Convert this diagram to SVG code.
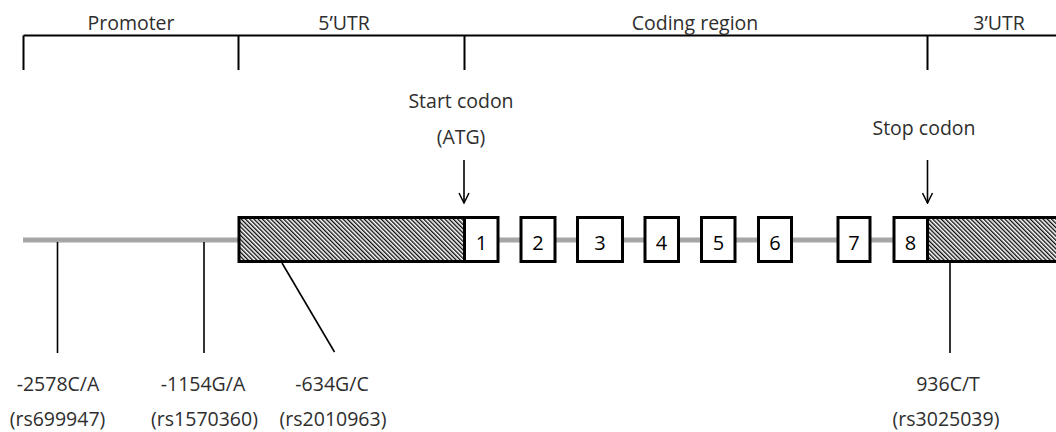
<svg xmlns="http://www.w3.org/2000/svg" width="1056" height="432" viewBox="0 0 1056 432">
  <defs>
    <pattern id="hatch" width="3" height="3" patternUnits="userSpaceOnUse" patternTransform="rotate(-45)">
      <rect width="3" height="3" fill="#ffffff"/>
      <line x1="0.7" y1="0" x2="0.7" y2="3" stroke="#000000" stroke-width="1.3"/>
    </pattern>
    <marker id="open-arrow" viewBox="0 0 12 12" refX="11" refY="6" markerWidth="12" markerHeight="12" markerUnits="userSpaceOnUse" orient="auto">
      <path d="M1,1 L11,6 L1,11" fill="none" stroke="#000000" stroke-width="1.5"/>
    </marker>
    <style>
      .lbl { font-family: "Open Sans", "Liberation Sans", sans-serif; font-size: 19.5px; fill: #2e2e2e; text-anchor: middle; }
      .num { font-family: "Open Sans", "Liberation Sans", sans-serif; font-size: 20px; fill: #000000; text-anchor: middle; }
      .exon { fill: #ffffff; stroke: #000000; stroke-width: 3; }
      .utr { fill: url(#hatch); stroke: #000000; stroke-width: 3; }
      .thin { stroke: #000000; stroke-width: 1.6; fill: none; }
      .bracket { stroke: #000000; stroke-width: 2; fill: none; }
      .backbone { stroke: #a6a6a6; stroke-width: 5; fill: none; }
    </style>
  </defs>

  <rect width="1056" height="432" fill="#ffffff"/>

  <!-- region bracket along the top -->
  <g id="regions">
    <path class="bracket" d="M23.5,35.5 H1056 M23.5,35.5 V70 M238.5,35.5 V70 M464.5,35.5 V70 M927.5,35.5 V70"/>
    <text class="lbl" x="131" y="29.5">Promoter</text>
    <text class="lbl" x="344" y="29.5">5’UTR</text>
    <text class="lbl" x="695" y="29.5">Coding region</text>
    <text class="lbl" x="999" y="29.5">3’UTR</text>
  </g>

  <!-- gene backbone -->
  <g id="backbone">
    <line class="backbone" x1="23" y1="240" x2="927" y2="240"/>
  </g>

  <!-- connectors: codon arrows and SNP pointers -->
  <g id="connectors">
    <line class="thin" x1="464" y1="160" x2="464" y2="203" marker-end="url(#open-arrow)"/>
    <line class="thin" x1="927.5" y1="160" x2="927.5" y2="203" marker-end="url(#open-arrow)"/>
    <line class="thin" x1="57.5" y1="242" x2="57.5" y2="353"/>
    <line class="thin" x1="204" y1="242" x2="204" y2="353"/>
    <line class="thin" x1="282" y1="263" x2="334.5" y2="352"/>
    <line class="thin" x1="950" y1="263" x2="950" y2="353"/>
  </g>

  <g id="utr5">
    <rect class="utr" x="239" y="217.5" width="225.5" height="44"/>
  </g>
  <g id="exon1"><rect class="exon" x="464.5" y="217.5" width="33.5" height="44"/><text class="num" x="481.5" y="250">1</text></g>
  <g id="exon2"><rect class="exon" x="521" y="217.5" width="34" height="44"/><text class="num" x="538" y="250">2</text></g>
  <g id="exon3"><rect class="exon" x="577.5" y="217.5" width="45" height="44"/><text class="num" x="600" y="250">3</text></g>
  <g id="exon4"><rect class="exon" x="645" y="217.5" width="33.5" height="44"/><text class="num" x="661.5" y="250">4</text></g>
  <g id="exon5"><rect class="exon" x="701.5" y="217.5" width="33.5" height="44"/><text class="num" x="718.5" y="250">5</text></g>
  <g id="exon6"><rect class="exon" x="758.5" y="217.5" width="33" height="44"/><text class="num" x="775" y="250">6</text></g>
  <g id="exon7"><rect class="exon" x="838" y="217.5" width="32" height="44"/><text class="num" x="854" y="250">7</text></g>
  <g id="exon8"><rect class="exon" x="894" y="217.5" width="33.5" height="44"/><text class="num" x="910.5" y="250">8</text></g>
  <g id="utr3">
    <rect class="utr" x="927.5" y="217.5" width="140" height="44"/>
  </g>

  <g id="start-codon">
    <text class="lbl" x="461" y="107.5">Start codon</text>
    <text class="lbl" x="461" y="143.5">(ATG)</text>
  </g>
  <g id="stop-codon">
    <text class="lbl" x="924" y="135">Stop codon</text>
  </g>

  <g id="snp-2578">
    <text class="lbl" x="58" y="391">-2578C/A</text>
    <text class="lbl" x="57.5" y="426">(rs699947)</text>
  </g>
  <g id="snp-1154">
    <text class="lbl" x="203" y="391">-1154G/A</text>
    <text class="lbl" x="204.5" y="426">(rs1570360)</text>
  </g>
  <g id="snp-634">
    <text class="lbl" x="332" y="391">-634G/C</text>
    <text class="lbl" x="333" y="426">(rs2010963)</text>
  </g>
  <g id="snp-936">
    <text class="lbl" x="948" y="391">936C/T</text>
    <text class="lbl" x="946" y="426">(rs3025039)</text>
  </g>
</svg>
